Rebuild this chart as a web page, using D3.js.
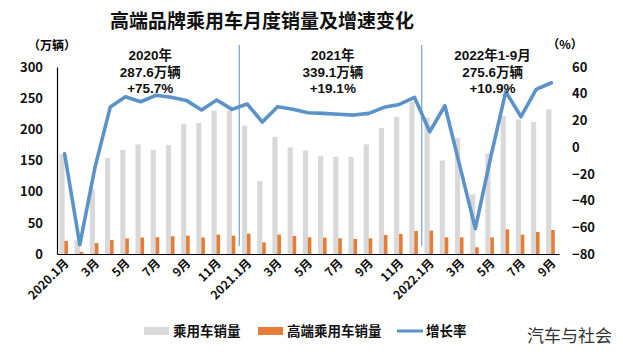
<!DOCTYPE html>
<html>
<head>
<meta charset="utf-8">
<script src="https://cdn.jsdelivr.net/npm/d3@7"></script>
<style>
  body { margin: 0; background: #fff; }
  svg { font-family: "Noto Sans CJK SC", "Noto Sans", sans-serif; }
</style>
</head>
<body>
<div id="chart"></div>
<script>
// months 2020.1 - 2022.9
const months = [
  "2020.1月","2月","3月","4月","5月","6月","7月","8月","9月","10月","11月","12月",
  "2021.1月","2月","3月","4月","5月","6月","7月","8月","9月","10月","11月","12月",
  "2022.1月","2月","3月","4月","5月","6月","7月","8月","9月"
];
// 乘用车销量 (万辆)
const carSales = [160, 22, 104, 154, 167, 176, 167, 175, 209, 210, 230, 230,
  206, 117, 188, 171, 166, 157, 156, 156, 176, 202, 220, 244,
  219, 150, 186, 96, 161, 222, 216, 212, 232];
// 高端乘用车销量 (万辆)
const premiumSales = [21, 3.5, 17.5, 22.5, 25, 26.5, 27, 28.5, 29.4, 26.5, 31, 29.4,
  32.6, 18.7, 31, 29, 26.7, 26.2, 25.1, 24.1, 25.1, 30.5, 32.1, 37,
  37.4, 26.7, 26.7, 10.7, 26.7, 39.6, 31, 35.3, 38.5];
// 增长率 (%)
const growth = [-5, -73, -15, 30, 37.7, 34, 38.8, 37.3, 35, 27.8, 35.3, 28.3,
  32.3, 18.8, 30.3, 28.3, 25.8, 25.3, 24.6, 24, 25.3, 29.8, 32, 37.3,
  11.5, 31, -15, -61, -8, 41.5, 22.8, 43.3, 48.2];

const leftTicks = [0, 50, 100, 150, 200, 250, 300];
const rightTicks = [-80, -60, -40, -20, 0, 20, 40, 60];

const periods = [
  {label: "2020年", total: "287.6万辆", rate: "+75.7%", from: 0, to: 11},
  {label: "2021年", total: "339.1万辆", rate: "+19.1%", from: 12, to: 23},
  {label: "2022年1-9月", total: "275.6万辆", rate: "+10.9%", from: 24, to: 32}
];

const legendItems = [
  {name: "乘用车销量", type: "rect", color: "#d9d9d9"},
  {name: "高端乘用车销量", type: "rect", color: "#e67d36"},
  {name: "增长率", type: "line", color: "#5b93c9"}
];

const width = 623, height = 352;
const margin = {top: 67, right: 64, bottom: 98, left: 57};
const innerW = width - margin.left - margin.right;
const innerH = height - margin.top - margin.bottom;

const svg = d3.select("#chart").append("svg")
  .attr("width", width)
  .attr("height", height);

const x = d3.scaleBand()
  .domain(d3.range(months.length))
  .range([margin.left, margin.left + innerW]);

const yL = d3.scaleLinear().domain([0, 300]).range([margin.top + innerH, margin.top]);
const yR = d3.scaleLinear().domain([-80, 60]).range([margin.top + innerH, margin.top]);

const cx = i => x(i) + x.bandwidth() / 2;

// Title
svg.append("text")
  .attr("x", 262).attr("y", 28)
  .attr("text-anchor", "middle")
  .attr("font-size", 19).attr("font-weight", "bold")
  .attr("fill", "#111")
  .text("高端品牌乘用车月度销量及增速变化");

// Unit labels
svg.append("text").attr("x", 52).attr("y", 50)
  .attr("text-anchor", "middle").attr("font-size", 12).attr("font-weight", "bold")
  .text("（万辆）");
svg.append("text").attr("x", 565).attr("y", 49)
  .attr("text-anchor", "middle").attr("font-size", 12).attr("font-weight", "bold")
  .text("（%）");

// Bars
svg.append("g").selectAll("rect")
  .data(carSales)
  .join("rect")
  .attr("x", (d, i) => cx(i) - 5.2)
  .attr("width", 5.2)
  .attr("y", d => yL(d))
  .attr("height", d => yL(0) - yL(d))
  .attr("fill", legendItems[0].color);

svg.append("g").selectAll("rect")
  .data(premiumSales)
  .join("rect")
  .attr("x", (d, i) => cx(i) - 0.2)
  .attr("width", 3.6)
  .attr("y", d => yL(d))
  .attr("height", d => yL(0) - yL(d))
  .attr("fill", legendItems[1].color);

// Period separators
[11, 23].forEach(i => {
  const sx = x(i + 1) - 0.3;
  svg.append("line")
    .attr("x1", sx).attr("x2", sx)
    .attr("y1", 45).attr("y2", 246)
    .attr("stroke", "#5b8ec2").attr("stroke-width", 1);
});

// Growth line
const line = d3.line()
  .x((d, i) => cx(i))
  .y(d => yR(d));

svg.append("path")
  .datum(growth)
  .attr("fill", "none")
  .attr("stroke", legendItems[2].color)
  .attr("stroke-width", 3.6)
  .attr("stroke-linejoin", "round")
  .attr("stroke-linecap", "round")
  .attr("d", line);

// Axes
const axisL = d3.axisLeft(yL).tickValues(leftTicks).tickSize(0).tickPadding(14);
const gL = svg.append("g")
  .attr("transform", `translate(${margin.left},0)`)
  .call(axisL);
gL.select(".domain").attr("stroke", "#000").attr("stroke-width", 1.2);
gL.selectAll("text").attr("font-size", 13).attr("font-weight", "bold").attr("fill", "#111")
  .attr("font-family", "'Noto Sans CJK SC', sans-serif");

const axisR = d3.axisRight(yR).tickValues(rightTicks).tickSize(0).tickPadding(13);
const gR = svg.append("g")
  .attr("transform", `translate(${margin.left + innerW},0)`)
  .call(axisR);
gR.select(".domain").remove();
gR.selectAll("text").attr("font-size", 13).attr("font-weight", "bold").attr("fill", "#111")
  .attr("font-family", "'Noto Sans CJK SC', sans-serif");

const axisB = d3.axisBottom(x).tickSize(0).tickFormat("");
const gB = svg.append("g")
  .attr("transform", `translate(0,${yL(0)})`)
  .call(axisB);
gB.select(".domain").attr("stroke", "#000").attr("stroke-width", 1.2);

// x labels, every other month, rotated
svg.append("g").selectAll("text")
  .data(months.map((m, i) => ({m, i})).filter(d => d.i % 2 === 0 || d.m.includes(".")))
  .join("text")
  .attr("transform", d => `translate(${cx(d.i) + 5},${yL(0) + 10}) rotate(-45)`)
  .attr("text-anchor", "end")
  .attr("font-size", 12).attr("font-weight", "bold").attr("fill", "#111")
  .text(d => d.m);

// Period annotations
periods.forEach(p => {
  const mx = (cx(p.from) + cx(p.to)) / 2 + 2;
  const g = svg.append("g").attr("font-size", 13.5).attr("font-weight", "bold")
    .attr("font-family", "'Liberation Sans', 'Noto Sans CJK SC', sans-serif")
    .attr("fill", "#111").attr("text-anchor", "middle");
  g.append("text").attr("x", mx).attr("y", 60).text(p.label);
  g.append("text").attr("x", mx).attr("y", 76.5).text(p.total);
  g.append("text").attr("x", mx).attr("y", 93).text(p.rate);
});

// Legend
const legendX = [144, 258, 397];
const lg = svg.append("g");
legendItems.forEach((d, i) => {
  const g = lg.append("g").attr("transform", `translate(${legendX[i]},331)`);
  if (d.type === "rect") {
    g.append("rect").attr("x", 0).attr("y", -4).attr("width", 25).attr("height", 8).attr("fill", d.color);
  } else {
    g.append("line").attr("x1", 0).attr("x2", 26).attr("stroke", d.color).attr("stroke-width", 3);
  }
  g.append("text").attr("x", 29).attr("y", 5)
    .attr("font-size", 13.5).attr("font-weight", "bold").attr("fill", "#111")
    .text(d.name);
});

// Source
svg.append("text")
  .attr("x", 612).attr("y", 342)
  .attr("text-anchor", "end")
  .attr("font-size", 17).attr("fill", "#333")
  .text("汽车与社会");
</script>
</body>
</html>
